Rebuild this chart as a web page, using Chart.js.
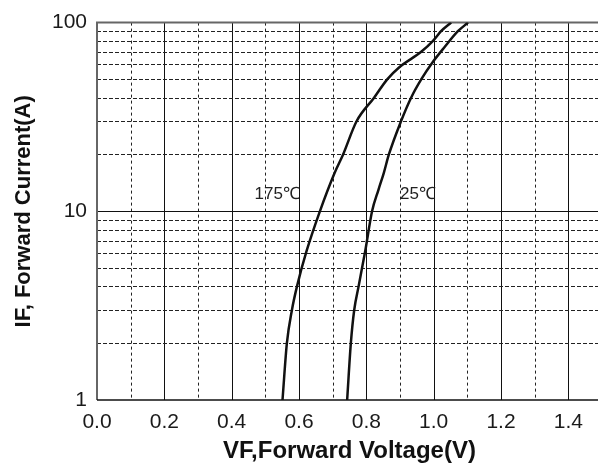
<!DOCTYPE html>
<html>
<head>
<meta charset="utf-8">
<script src="https://cdn.jsdelivr.net/npm/chart.js@4/dist/chart.umd.min.js"></script>
<style>
  html, body { margin: 0; padding: 0; background: #fff; }
  #wrap { width: 598px; height: 467px; overflow: hidden; }
</style>
</head>
<body>
<div id="wrap"><canvas id="ivChart" width="602" height="467"></canvas></div>
<script>
// Forward voltage (V) vs forward current (A), two junction temperatures
const vf175 = [0.551, 0.564, 0.579, 0.594, 0.623, 0.662, 0.706, 0.731, 0.771, 0.823, 0.862, 0.898, 0.963, 0.998, 1.022, 1.052];
const if175 = [1, 2, 3, 4, 6.2, 10, 16, 20, 30, 40, 50, 58, 70, 80, 90, 100];

const vf25 = [0.743, 0.754, 0.764, 0.777, 0.797, 0.817, 0.836, 0.852, 0.867, 0.903, 0.933, 0.963, 0.998, 1.032, 1.072, 1.102];
const if25 = [1, 2, 3, 4, 6.2, 10, 13, 16, 20, 30, 40, 50, 62, 74, 90, 100];

// Axis ticks and grid
const xTicks = [0, 0.2, 0.4, 0.6, 0.8, 1.0, 1.2, 1.4];
const xGrid = [0.1, 0.2, 0.3, 0.4, 0.5, 0.6, 0.7, 0.8, 0.9, 1.0, 1.1, 1.2, 1.3, 1.4, 1.5];
const yTicks = [1, 10, 100];
const yGrid = [2, 3, 4, 5, 6, 7, 8, 9, 10, 20, 30, 40, 50, 60, 70, 80, 90];

// Curve labels (text, V, A)
const curveLabels = [
    ['175\u2103', 0.468, 11.6],
    ['25\u2103', 0.900, 11.6]
];

function toPoints(xs, ys) {
    return xs.map((x, i) => ({ x: x, y: ys[i] }));
}

// Mixed solid/dashed grid, drawn from the scales
const gridPlugin = {
    id: 'mixedGrid',
    beforeDatasetsDraw(chart) {
        const { ctx, chartArea: a, scales: { x, y } } = chart;
        ctx.save();
        ctx.lineWidth = 1;
        xGrid.forEach(v => {
            const px = Math.round(x.getPixelForValue(v)) + 0.5;
            const major = Math.round(v * 10) % 2 === 0;
            ctx.strokeStyle = major ? '#111' : '#222';
            ctx.setLineDash(major ? [] : [3, 3]);
            ctx.beginPath();
            ctx.moveTo(px, a.top);
            ctx.lineTo(px, a.bottom);
            ctx.stroke();
        });
        yGrid.forEach(v => {
            const py = Math.round(y.getPixelForValue(v)) + 0.5;
            const major = v === 10;
            ctx.strokeStyle = major ? '#111' : '#222';
            ctx.setLineDash(major ? [] : [4, 2]);
            ctx.beginPath();
            ctx.moveTo(a.left, py);
            ctx.lineTo(a.right, py);
            ctx.stroke();
        });
        // frame: top and left in grey, bottom in black
        ctx.setLineDash([]);
        ctx.strokeStyle = '#666';
        ctx.lineWidth = 2;
        ctx.beginPath();
        ctx.moveTo(a.left, a.bottom);
        ctx.lineTo(a.left, a.top);
        ctx.lineTo(a.right, a.top);
        ctx.stroke();
        ctx.strokeStyle = '#111';
        ctx.lineWidth = 1.5;
        ctx.beginPath();
        ctx.moveTo(a.left, a.bottom);
        ctx.lineTo(a.right, a.bottom);
        ctx.stroke();
        ctx.restore();
    },
    afterDatasetsDraw(chart) {
        const { ctx, scales: { x, y } } = chart;
        ctx.save();
        ctx.font = '17px "Liberation Sans", Arial, sans-serif';
        ctx.fillStyle = '#222';
        ctx.textAlign = 'left';
        ctx.textBaseline = 'alphabetic';
        curveLabels.forEach(([text, v, i]) => {
            ctx.fillText(text, x.getPixelForValue(v), y.getPixelForValue(i));
        });
        ctx.restore();
    }
};

new Chart(document.getElementById('ivChart'), {
    type: 'scatter',
    data: {
        datasets: [
            {
                label: '175\u2103',
                data: toPoints(vf175, if175),
                showLine: true,
                borderColor: '#111',
                borderWidth: 2.5,
                pointRadius: 0,
                cubicInterpolationMode: 'monotone'
            },
            {
                label: '25\u2103',
                data: toPoints(vf25, if25),
                showLine: true,
                borderColor: '#111',
                borderWidth: 2.5,
                pointRadius: 0,
                cubicInterpolationMode: 'monotone'
            }
        ]
    },
    options: {
        responsive: false,
        animation: false,
        layout: { padding: { top: 20, right: 0, left: 0, bottom: 0 } },
        plugins: {
            legend: { display: false },
            tooltip: { enabled: false }
        },
        scales: {
            x: {
                type: 'linear',
                min: 0,
                max: 1.5,
                afterBuildTicks: axis => { axis.ticks = xTicks.map(v => ({ value: v })); },
                afterFit: axis => { axis.height = 67; },
                grid: { display: false, drawTicks: false },
                border: { display: false },
                ticks: {
                    padding: 10,
                    color: '#1a1a1a',
                    font: { family: '"Liberation Sans", Arial, sans-serif', size: 21 },
                    callback: v => Number(v).toFixed(1)
                },
                title: {
                    display: true,
                    text: 'VF,Forward Voltage(V)',
                    color: '#111',
                    padding: { top: 0, bottom: 1 },
                    font: { family: '"Liberation Sans", Arial, sans-serif', size: 24, weight: 'bold' }
                }
            },
            y: {
                type: 'logarithmic',
                min: 1,
                max: 100,
                afterBuildTicks: axis => { axis.ticks = yTicks.map(v => ({ value: v })); },
                afterFit: axis => { axis.width = 97; },
                grid: { display: false, drawTicks: false },
                border: { display: false },
                ticks: {
                    padding: 10,
                    color: '#1a1a1a',
                    font: { family: '"Liberation Sans", Arial, sans-serif', size: 21 },
                    callback: v => String(v)
                },
                title: {
                    display: true,
                    text: 'IF, Forward Current(A)',
                    color: '#111',
                    padding: { top: 11, bottom: 0 },
                    font: { family: '"Liberation Sans", Arial, sans-serif', size: 22, weight: 'bold' }
                }
            }
        }
    },
    plugins: [gridPlugin]
});
</script>
</body>
</html>
